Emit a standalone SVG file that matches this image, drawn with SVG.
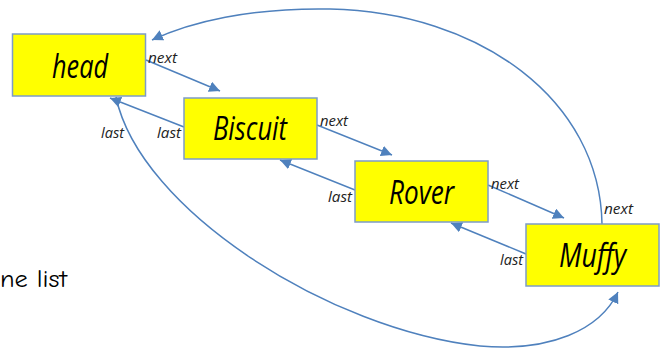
<svg xmlns="http://www.w3.org/2000/svg" width="667" height="349" viewBox="0 0 667 349">
<style>
.box{fill:#ffff00;stroke:#7d9cc8;stroke-width:1.5}
.name{font-family:"Open Sans","Liberation Sans",sans-serif;font-style:italic;font-size:32px;fill:#000}
.lbl{font-family:"Open Sans","Liberation Sans",sans-serif;font-style:italic;font-size:14.5px;fill:#222}
.c{fill:none;stroke:#4f81bd;stroke-width:1.5}
.note{font-family:"Comic Neue","DejaVu Sans",sans-serif;font-size:25px;fill:#000}
</style>
<defs>
<marker id="ahL" viewBox="0 0 10 10" refX="10" refY="5" markerWidth="11" markerHeight="11" markerUnits="userSpaceOnUse" orient="auto">
<path d="M0,0 L10,5 L0,10 z" fill="#4f81bd"/>
</marker>
</defs>
<g id="connectors">
<path class="c" marker-end="url(#ahL)" d="M146,60 L220,91"/>
<path class="c" marker-end="url(#ahL)" d="M184,127 L110,98"/>
<path class="c" marker-end="url(#ahL)" d="M317,125 L392,155"/>
<path class="c" marker-end="url(#ahL)" d="M355,190 L280,160"/>
<path class="c" marker-end="url(#ahL)" d="M488,185 L564,218"/>
<path class="c" marker-end="url(#ahL)" d="M526,254 L451,223"/>
<path class="c" marker-end="url(#ahL)" d="M602,224 C600,100 480,12 330,9 C250,7.5 190,22 152,40"/>
<path class="c" marker-end="url(#ahL)" d="M116,97 C140,210 330,330 480,346 C550,352 600,330 618,292"/>
</g>
<g id="head">
<rect class="box" x="12.5" y="34" width="133" height="62"/>
<text class="name" x="52" y="78" textLength="56" lengthAdjust="spacingAndGlyphs">head</text>
</g>
<g id="biscuit">
<rect class="box" x="184" y="98" width="133" height="61"/>
<text class="name" x="213" y="140" textLength="74" lengthAdjust="spacingAndGlyphs">Biscuit</text>
</g>
<g id="rover">
<rect class="box" x="355" y="161" width="133" height="61"/>
<text class="name" x="389" y="204" textLength="65" lengthAdjust="spacingAndGlyphs">Rover</text>
</g>
<g id="muffy">
<rect class="box" x="526" y="224" width="133" height="62"/>
<text class="name" x="559" y="267" textLength="67" lengthAdjust="spacingAndGlyphs">Muffy</text>
</g>
<g id="labels">
<text class="lbl" x="148" y="62.5" textLength="29" lengthAdjust="spacingAndGlyphs">next</text>
<text class="lbl" x="101" y="138" textLength="23" lengthAdjust="spacingAndGlyphs">last</text>
<text class="lbl" x="157" y="138" textLength="24" lengthAdjust="spacingAndGlyphs">last</text>
<text class="lbl" x="320" y="126" textLength="28" lengthAdjust="spacingAndGlyphs">next</text>
<text class="lbl" x="328" y="201.5" textLength="24" lengthAdjust="spacingAndGlyphs">last</text>
<text class="lbl" x="491" y="189" textLength="28" lengthAdjust="spacingAndGlyphs">next</text>
<text class="lbl" x="604" y="214" textLength="29" lengthAdjust="spacingAndGlyphs">next</text>
<text class="lbl" x="500" y="265" textLength="23" lengthAdjust="spacingAndGlyphs">last</text>
</g>
<text class="note" x="0" y="287" textLength="67" lengthAdjust="spacingAndGlyphs">ne list</text>
</svg>
